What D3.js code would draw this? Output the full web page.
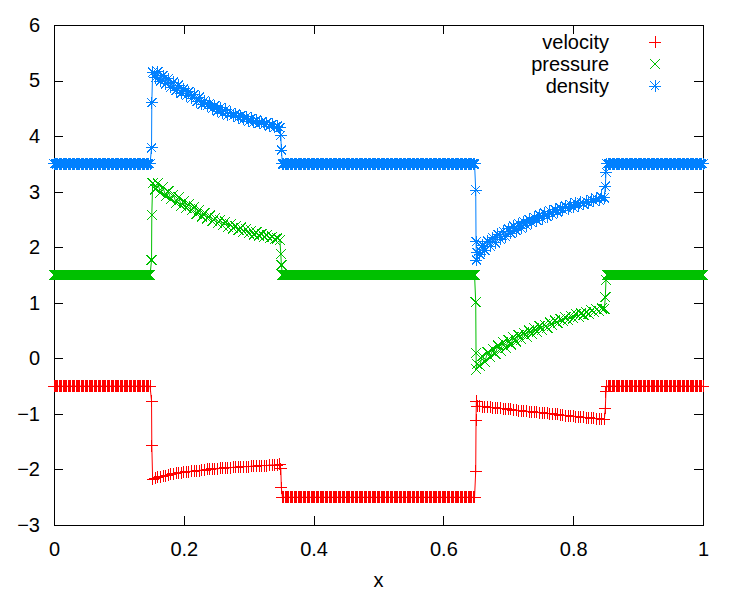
<!DOCTYPE html>
<html>
<head>
<meta charset="utf-8">
<script src="https://cdn.jsdelivr.net/npm/d3@7"></script>
<style>
body { margin: 0; background: #fff; }
svg { font-family: "Liberation Sans", Arial, sans-serif; }
</style>
</head>
<body>
<svg width="750" height="600"></svg>
<script>
// series names / colours / ticks
const SERIES_NAMES = ['velocity', 'pressure', 'density'];
const SERIES_COLORS = ['#ff0000', '#00c000', '#0080ff'];
const X_TICKS = [0, 0.2, 0.4, 0.6, 0.8, 1];
const Y_TICKS = [-3, -2, -1, 0, 1, 2, 3, 4, 5, 6];

// particle positions, region by region
const xLeft = d3.range(0, 0.1495, 0.002);
const xJump1 = [0.1503, 0.1507];
const xShell1 = d3.range(0.152, 0.3495, 0.004);
const xJump2 = [0.3495, 0.3503];
const xMiddle = d3.range(0.352, 0.6485, 0.002);
const xJump3 = [0.6498, 0.6503, 0.6508];
const xShell2 = d3.range(0.652, 0.8495, 0.004);
const xJump4 = [0.8495, 0.8505];
const xRight = d3.range(0.852, 1.0005, 0.002);

// constant states: left, middle, right
const velocityFlat = [-0.5, -2.5, -0.5];
const pressureFlat = [1.5, 1.5, 1.5];
const densityFlat = [3.5, 3.5, 3.5];

// points inside the jumps
const velocityJump1 = [-0.77, -1.57];
const pressureJump1 = [1.77, 2.58];
const densityJump1 = [3.79, 4.60];
const velocityJump2 = [-1.99, -2.33];
const pressureJump2 = [1.88, 1.68];
const densityJump2 = [4.02, 3.75];
const velocityJump3 = [-2.03, -1.11, -0.77];
const pressureJump3 = [1.01, 0.10, -0.20];
const densityJump3 = [3.03, 2.10, 1.77];
const velocityJump4 = [-0.90, -0.60];
const pressureJump4 = [1.10, 1.41];
const densityJump4 = [3.10, 3.35];

// first shell (0.15 .. 0.35), neighbouring particles scatter a little
const velocityShell1 = [-2.18,-2.16,-2.14,-2.13,-2.12,-2.11,-2.10,-2.09,-2.08,-2.07,
    -2.06,-2.06,-2.05,-2.04,-2.04,-2.03,-2.03,-2.02,-2.02,-2.01,
    -2.01,-2.00,-2.00,-1.99,-1.99,-1.99,-1.98,-1.98,-1.97,-1.97,
    -1.97,-1.96,-1.96,-1.96,-1.95,-1.95,-1.95,-1.95,-1.94,-1.94,
    -1.94,-1.93,-1.93,-1.93,-1.93,-1.92,-1.92,-1.92,-1.92,-1.91];
const pressureShell1 = [3.15,3.04,3.15,2.98,3.08,2.92,3.01,2.86,2.95,2.80,
    2.90,2.75,2.83,2.71,2.78,2.66,2.73,2.60,2.68,2.55,
    2.62,2.52,2.57,2.47,2.53,2.43,2.49,2.39,2.46,2.36,
    2.41,2.34,2.38,2.31,2.35,2.28,2.33,2.25,2.30,2.23,
    2.27,2.21,2.24,2.19,2.22,2.16,2.19,2.14,2.16,2.13];
const densityShell1 = [5.15,5.05,5.16,4.99,5.09,4.94,5.03,4.88,4.97,4.82,
    4.92,4.77,4.85,4.73,4.80,4.68,4.75,4.62,4.70,4.57,
    4.64,4.54,4.59,4.49,4.55,4.45,4.51,4.41,4.48,4.38,
    4.43,4.36,4.40,4.33,4.37,4.30,4.35,4.27,4.32,4.25,
    4.29,4.23,4.26,4.21,4.24,4.18,4.21,4.16,4.18,4.15];

// second shell (0.65 .. 0.85)
const velocityShell2 = [-0.86,-0.86,-0.87,-0.87,-0.88,-0.88,-0.89,-0.89,-0.90,-0.90,
    -0.91,-0.91,-0.92,-0.92,-0.93,-0.93,-0.94,-0.94,-0.95,-0.95,
    -0.96,-0.96,-0.97,-0.97,-0.98,-0.98,-0.99,-0.99,-1.00,-1.00,
    -1.01,-1.01,-1.02,-1.02,-1.03,-1.03,-1.04,-1.04,-1.05,-1.05,
    -1.06,-1.06,-1.07,-1.07,-1.08,-1.08,-1.09,-1.09,-1.10,-1.10];
const pressureShell2 = [-0.10,-0.13,0.04,-0.06,0.11,0.02,0.17,0.08,0.23,0.14,
    0.29,0.19,0.33,0.25,0.38,0.30,0.42,0.34,0.46,0.39,
    0.50,0.44,0.54,0.48,0.58,0.51,0.61,0.55,0.65,0.59,
    0.68,0.63,0.71,0.67,0.74,0.69,0.77,0.72,0.80,0.75,
    0.81,0.78,0.83,0.80,0.86,0.83,0.88,0.85,0.90,0.89];
const densityShell2 = [1.90,1.87,2.04,1.94,2.11,2.02,2.17,2.08,2.23,2.14,
    2.29,2.19,2.33,2.25,2.38,2.30,2.42,2.34,2.46,2.39,
    2.50,2.44,2.54,2.48,2.58,2.51,2.61,2.55,2.65,2.59,
    2.68,2.63,2.71,2.67,2.74,2.69,2.77,2.72,2.80,2.75,
    2.81,2.78,2.83,2.80,2.86,2.83,2.88,2.85,2.90,2.89];

const xAll = [].concat(xLeft, xJump1, xShell1, xJump2, xMiddle, xJump3, xShell2, xJump4, xRight);

function buildSeries(flat, j1, s1, j2, j3, s2, j4) {
    const ys = [].concat(
        xLeft.map(() => flat[0]), j1, s1, j2,
        xMiddle.map(() => flat[1]), j3, s2, j4,
        xRight.map(() => flat[2]));
    return xAll.map((x, i) => ({x: x, y: ys[i]}));
}

const seriesData = [
    buildSeries(velocityFlat, velocityJump1, velocityShell1, velocityJump2, velocityJump3, velocityShell2, velocityJump4),
    buildSeries(pressureFlat, pressureJump1, pressureShell1, pressureJump2, pressureJump3, pressureShell2, pressureJump4),
    buildSeries(densityFlat, densityJump1, densityShell1, densityJump2, densityJump3, densityShell2, densityJump4)
];

// ---- layout ----
const PLOT = {left: 54, right: 703, top: 25, bottom: 525};
const TICK = 9;

const x = d3.scaleLinear().domain([0, 1]).range([PLOT.left, PLOT.right]);
const y = d3.scaleLinear().domain([-3, 6]).range([PLOT.bottom, PLOT.top]);

const svg = d3.select('svg');

// gnuplot point types: 1 = +, 2 = x, 3 = *
const MARKERS = [
    'M-6,0H6M0,-6V6',
    'M-5,-5L5,5M-5,5L5,-5',
    'M-6,0H6M0,-6V6M-4.5,-4.5L4.5,4.5M-4.5,4.5L4.5,-4.5'
];

function styleAxis(g) {
    g.select('.domain').remove();
    g.attr('font-family', '"Liberation Sans", Arial, sans-serif')
        .attr('font-size', 20)
        .attr('color', '#000');
    g.selectAll('line').attr('shape-rendering', 'crispEdges');
}

svg.append('g')
    .attr('transform', `translate(0,${PLOT.bottom})`)
    .call(d3.axisBottom(x).tickValues(X_TICKS).tickSize(-TICK).tickPadding(17).tickFormat(d3.format('')))
    .call(styleAxis);
svg.append('g')
    .attr('transform', `translate(0,${PLOT.top})`)
    .call(d3.axisTop(x).tickValues(X_TICKS).tickSize(-TICK).tickFormat(''))
    .call(styleAxis);
svg.append('g')
    .attr('transform', `translate(${PLOT.left},0)`)
    .call(d3.axisLeft(y).tickValues(Y_TICKS).tickSize(-TICK).tickPadding(14))
    .call(styleAxis);
svg.append('g')
    .attr('transform', `translate(${PLOT.right},0)`)
    .call(d3.axisRight(y).tickValues(Y_TICKS).tickSize(-TICK).tickFormat(''))
    .call(styleAxis);

// frame
svg.append('rect')
    .attr('x', PLOT.left + 0.5)
    .attr('y', PLOT.top + 0.5)
    .attr('width', PLOT.right - PLOT.left)
    .attr('height', PLOT.bottom - PLOT.top)
    .attr('fill', 'none')
    .attr('stroke', '#000')
    .attr('shape-rendering', 'crispEdges');

// x label
svg.append('text')
    .attr('x', (PLOT.left + PLOT.right) / 2)
    .attr('y', 587)
    .attr('text-anchor', 'middle')
    .attr('font-size', 20)
    .text('x');

const line = d3.line().x(d => x(d.x)).y(d => y(d.y));

seriesData.forEach((data, k) => {
    const g = svg.append('g').attr('class', 'series-' + SERIES_NAMES[k]);
    g.append('path')
        .datum(data)
        .attr('d', line)
        .attr('fill', 'none')
        .attr('stroke', SERIES_COLORS[k])
        .attr('stroke-width', 1);
    g.selectAll('.pt')
        .data(data)
        .enter()
        .append('path')
        .attr('class', 'pt')
        .attr('transform', d => `translate(${x(d.x)},${y(d.y)})`)
        .attr('d', MARKERS[k])
        .attr('fill', 'none')
        .attr('stroke', SERIES_COLORS[k])
        .attr('stroke-width', 1)
        .attr('shape-rendering', 'crispEdges');
});

// legend
const legend = svg.append('g').selectAll('g')
    .data(SERIES_NAMES)
    .enter()
    .append('g')
    .attr('transform', (d, i) => `translate(0,${42 + i * 22})`);
legend.append('text')
    .attr('x', 609)
    .attr('dy', '0.35em')
    .attr('text-anchor', 'end')
    .attr('font-size', 20)
    .text(d => d);
legend.append('path')
    .attr('transform', 'translate(655,0)')
    .attr('d', (d, i) => MARKERS[i])
    .attr('fill', 'none')
    .attr('stroke', (d, i) => SERIES_COLORS[i])
    .attr('stroke-width', 1)
    .attr('shape-rendering', 'crispEdges');
</script>
</body>
</html>
